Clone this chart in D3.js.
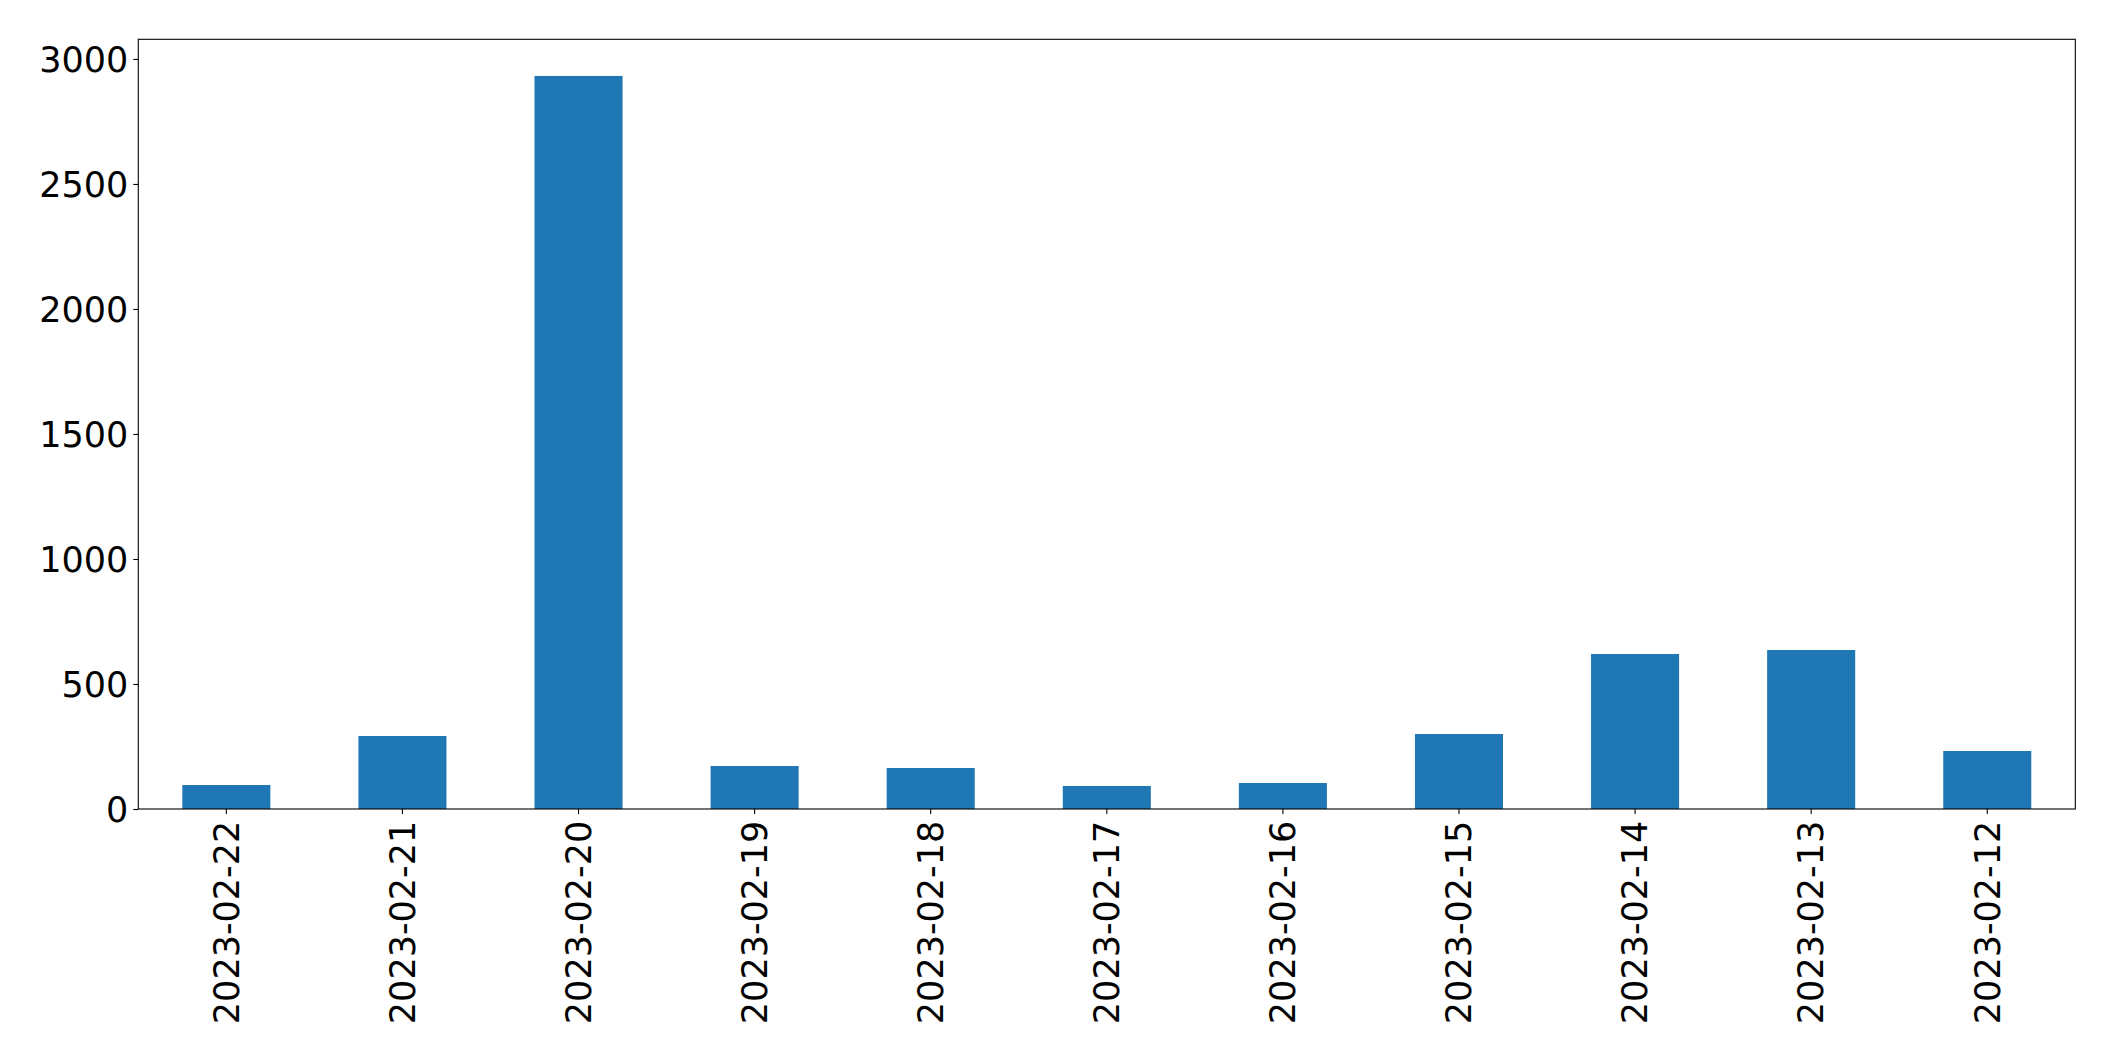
<!DOCTYPE html>
<html>
<head>
<meta charset="utf-8">
<script src="https://cdn.jsdelivr.net/npm/d3@7"></script>
<style>
  html, body { margin: 0; padding: 0; background: #fff; }
  svg { display: block; }
  text { font-family: "DejaVu Sans", sans-serif; fill: #000; }
</style>
</head>
<body>
<svg id="chart" width="2115" height="1061"></svg>
<script>
const categories = ["2023-02-22","2023-02-21","2023-02-20","2023-02-19","2023-02-18","2023-02-17","2023-02-16","2023-02-15","2023-02-14","2023-02-13","2023-02-12"];
const values = [96, 292, 2932, 172, 164, 92, 104, 300, 620, 636, 232];
const yTicks = [0, 500, 1000, 1500, 2000, 2500, 3000];

const W = 2115, H = 1061;
const margin = {left: 138.3, right: W - 2075.3, top: 39.3, bottom: H - 809};
const svg = d3.select("#chart");
const iw = W - margin.left - margin.right;
const ih = H - margin.top - margin.bottom;
const g = svg.append("g").attr("transform", `translate(${margin.left},${margin.top})`);

const x = d3.scaleBand().domain(categories).range([0, iw]).paddingInner(0.5).paddingOuter(0.25);
const yMax = d3.max(values) * 1.05;
const y = d3.scaleLinear().domain([0, yMax]).range([ih, 0]);

g.selectAll("rect.bar").data(values).join("rect")
  .attr("class", "bar")
  .attr("x", (d, i) => x(categories[i]))
  .attr("width", x.bandwidth())
  .attr("y", d => y(d))
  .attr("height", d => ih - y(d))
  .attr("fill", "#1f77b4");

const fs = 35;
const tickLen = 5, pad = 5;

const yAxis = g.append("g").call(d3.axisLeft(y).tickValues(yTicks).tickSize(tickLen).tickPadding(pad).tickFormat(d3.format("d")));
yAxis.select(".domain").remove();
yAxis.selectAll("line").attr("stroke", "#000").attr("stroke-width", 1.1);
yAxis.selectAll("text").style("font-size", fs + "px").attr("font-family", "DejaVu Sans").attr("dy", "0.35em");

const xAxis = g.append("g").attr("transform", `translate(0,${ih})`)
  .call(d3.axisBottom(x).tickSize(tickLen).tickPadding(pad));
xAxis.select(".domain").remove();
xAxis.selectAll("line").attr("stroke", "#000").attr("stroke-width", 1.1);
xAxis.selectAll("text")
  .style("font-size", fs + "px")
  .attr("font-family", "DejaVu Sans")
  .attr("text-anchor", "end")
  .attr("transform", `translate(0,${tickLen + pad}) rotate(-90)`)
  .attr("x", 0).attr("y", 0).attr("dy", "0.35em").attr("dx", "-0.05em");

g.append("rect").attr("x", 0).attr("y", 0).attr("width", iw).attr("height", ih)
  .attr("fill", "none").attr("stroke", "#000").attr("stroke-width", 1.1);
</script>
</body>
</html>
